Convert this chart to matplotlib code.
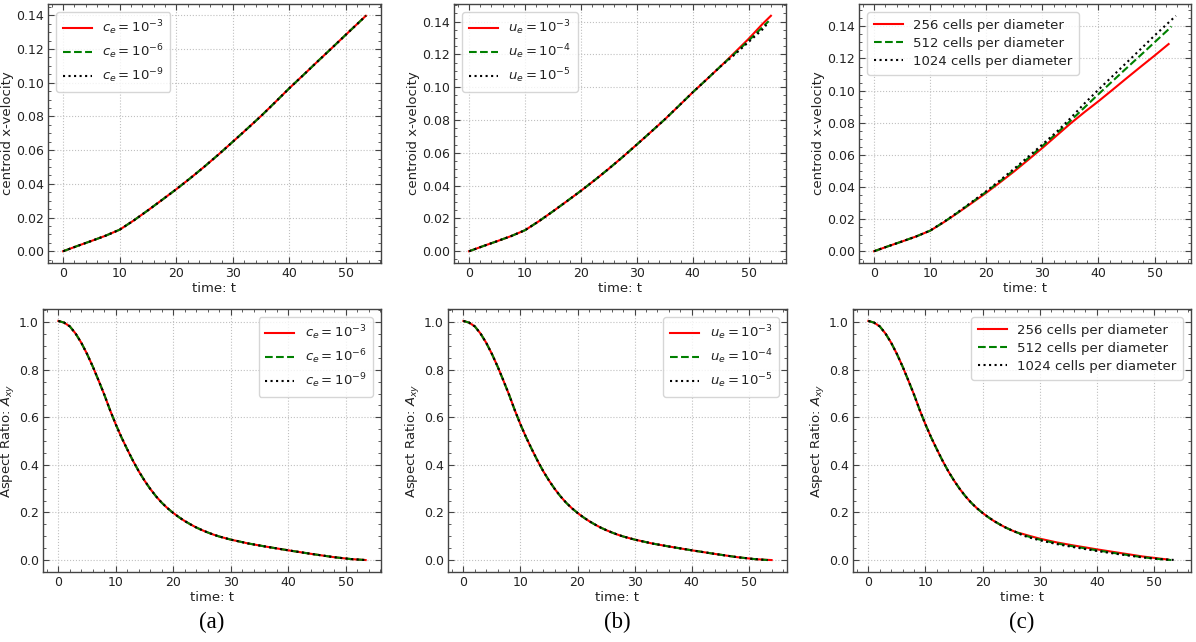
import matplotlib
matplotlib.use("Agg")
import matplotlib.pyplot as plt
from matplotlib.ticker import AutoMinorLocator

# ---- centroid x-velocity (top row) ----
t_vel = [0, 2.5, 5, 7.5, 10, 12.5, 15, 17.5, 20, 22.5, 25, 27.5, 30, 32.5,
         35, 37.5, 40, 42.5, 45, 47.5, 50, 52.5, 53.5]
vel_base = [0, 0.0031, 0.0061, 0.0092, 0.0128, 0.0183, 0.0243, 0.0305, 0.0368,
            0.0434, 0.0503, 0.0575, 0.0650, 0.0726, 0.0803, 0.0885, 0.0968,
            0.1047, 0.1127, 0.1206, 0.1286, 0.1365, 0.1397]

# (b) velocity tolerance u_e
t_ue3 = t_vel[:-1] + [54.0]
vel_ue3 = vel_base[:19] + [0.1210, 0.1294, 0.1385, 0.1435]
t_ue4 = t_vel[:-1] + [53.6]
vel_ue4 = vel_base[:19] + [0.1204, 0.1283, 0.1366, 0.1402]
t_ue5 = t_vel[:-1] + [53.2]
vel_ue5 = vel_base[:19] + [0.1198, 0.1275, 0.1352, 0.1380]

# (c) mesh resolution
t_256 = t_vel[:-1]
vel_256 = [0, 0.0031, 0.0061, 0.0092, 0.0128, 0.0182, 0.0241, 0.0302, 0.0364,
           0.0430, 0.0498, 0.0570, 0.0643, 0.0719, 0.0795, 0.0866, 0.0934,
           0.1005, 0.1077, 0.1148, 0.1218, 0.1290]
t_512 = t_vel[:-1] + [53.0]
vel_512 = [0, 0.0031, 0.0061, 0.0092, 0.0128, 0.0183, 0.0243, 0.0306, 0.0370,
           0.0437, 0.0507, 0.0580, 0.0655, 0.0733, 0.0812, 0.0895, 0.0978,
           0.1059, 0.1140, 0.1220, 0.1301, 0.1382, 0.1400]
t_1024 = t_vel[:-1] + [53.8]
vel_1024 = [0, 0.0031, 0.0061, 0.0092, 0.0129, 0.0184, 0.0245, 0.0309, 0.0374,
            0.0443, 0.0515, 0.0589, 0.0665, 0.0742, 0.0828, 0.0920, 0.1006,
            0.1090, 0.1174, 0.1258, 0.1343, 0.1424, 0.1466]

# ---- aspect ratio A_xy (bottom row) ----
t_ar = [0, 1, 2, 3, 4, 5, 6, 7, 8, 9, 10, 11, 12, 13, 14, 15, 16, 17, 18, 19,
        20, 21, 22, 23, 24, 25, 26, 27, 28, 30, 33, 36, 40, 44, 48, 51, 53.5]
ar_base = [1.005, 0.998, 0.982, 0.952, 0.913, 0.866, 0.813, 0.755, 0.695,
           0.630, 0.570, 0.515, 0.465, 0.417, 0.373, 0.334, 0.299, 0.268,
           0.241, 0.218, 0.198, 0.180, 0.164, 0.150, 0.137, 0.126, 0.116,
           0.107, 0.099, 0.086, 0.070, 0.057, 0.041, 0.026, 0.012, 0.004,
           0.000]

t_ar_ue3 = t_ar[:-1] + [53.0, 54.0]
ar_ue3 = ar_base[:-1] + [0.001, 0.000]
t_ar_ue = t_ar[:-1] + [53.3]
ar_ue = ar_base

t_ar_256 = t_ar[:-2] + [52.5]
ar_256 = ar_base[:27] + [0.110, 0.103, 0.090, 0.074, 0.061, 0.045, 0.030,
                         0.015, 0.002]
t_ar_512 = t_ar[:-1] + [53.0]
ar_512 = ar_base
t_ar_1024 = t_ar[:-1] + [53.8]
ar_1024 = ar_base[:27] + [0.104, 0.096, 0.083, 0.067, 0.054, 0.038, 0.024,
                          0.011, 0.004, 0.000]

ce_labels = [r"$c_e = 10^{-3}$", r"$c_e = 10^{-6}$", r"$c_e = 10^{-9}$"]
ue_labels = [r"$u_e = 10^{-3}$", r"$u_e = 10^{-4}$", r"$u_e = 10^{-5}$"]
res_labels = ["256 cells per diameter", "512 cells per diameter",
              "1024 cells per diameter"]
panel_tags = ["(a)", "(b)", "(c)"]

STYLES = [dict(color="red", ls="-"), dict(color="green", ls="--"),
          dict(color="black", ls=":")]
TXT = "#222222"


def style_axes(ax, ylabel):
    ax.xaxis.set_minor_locator(AutoMinorLocator())
    ax.yaxis.set_minor_locator(AutoMinorLocator())
    ax.tick_params(which="both", direction="in", top=True, right=True,
                   colors="#444444", labelcolor=TXT, labelsize=9)
    ax.tick_params(which="major", length=4, width=0.8, pad=3)
    ax.tick_params(which="minor", length=2, width=0.6)
    ax.grid(True, which="major", color="#c0c0c0", ls=":", lw=0.8)
    for sp in ax.spines.values():
        sp.set_color("#444444")
        sp.set_linewidth(1.0)
    ax.set_xlabel("time: t", fontsize=9.5, color=TXT, labelpad=1)
    ax.set_ylabel(ylabel, fontsize=9.5, color=TXT, labelpad=1)


def draw(ax, series, labels, loc, ylabel):
    for (t, y), lab, st in zip(series, labels, STYLES):
        ax.plot(t, y, lw=1.5, label=lab, **st)
    style_axes(ax, ylabel)
    leg = ax.legend(loc=loc, fontsize=9.5, labelspacing=0.4,
                    handlelength=2.2, borderpad=0.5, borderaxespad=0.6)
    for txt in leg.get_texts():
        txt.set_color(TXT)


fig = plt.figure(figsize=(11.96, 6.42), dpi=100)
W, H = 1196, 642


def box(x0, x1, ytop, ybot):
    return [x0 / W, 1 - ybot / H, (x1 - x0) / W, (ybot - ytop) / H]


top_boxes = [box(48, 381, 4, 263), box(454, 786, 4, 263), box(859, 1191, 4, 263)]
bot_boxes = [box(43, 381, 309, 572), box(448, 787, 309, 572), box(853, 1191, 309, 572)]

top_series = [
    [(t_vel, vel_base), (t_vel, vel_base), (t_vel, vel_base)],
    [(t_ue3, vel_ue3), (t_ue4, vel_ue4), (t_ue5, vel_ue5)],
    [(t_256, vel_256), (t_512, vel_512), (t_1024, vel_1024)],
]
bot_series = [
    [(t_ar, ar_base), (t_ar, ar_base), (t_ar, ar_base)],
    [(t_ar_ue3, ar_ue3), (t_ar_ue, ar_ue), (t_ar_ue, ar_ue)],
    [(t_ar_256, ar_256), (t_ar_512, ar_512), (t_ar_1024, ar_1024)],
]
label_sets = [ce_labels, ue_labels, res_labels]

for i in range(3):
    ax = fig.add_axes(top_boxes[i])
    draw(ax, top_series[i], label_sets[i], "upper left", "centroid x-velocity")
    ax.set_yticks([0, 0.02, 0.04, 0.06, 0.08, 0.10, 0.12, 0.14])

    ax2 = fig.add_axes(bot_boxes[i])
    draw(ax2, bot_series[i], label_sets[i], "upper right", r"Aspect Ratio: $A_{xy}$")

    b = bot_boxes[i]
    fig.text(b[0] + b[2] / 2, 0.030, panel_tags[i], ha="center", va="center",
             fontsize=16.5, family="Liberation Serif")

fig.savefig("out.png", dpi=100)
